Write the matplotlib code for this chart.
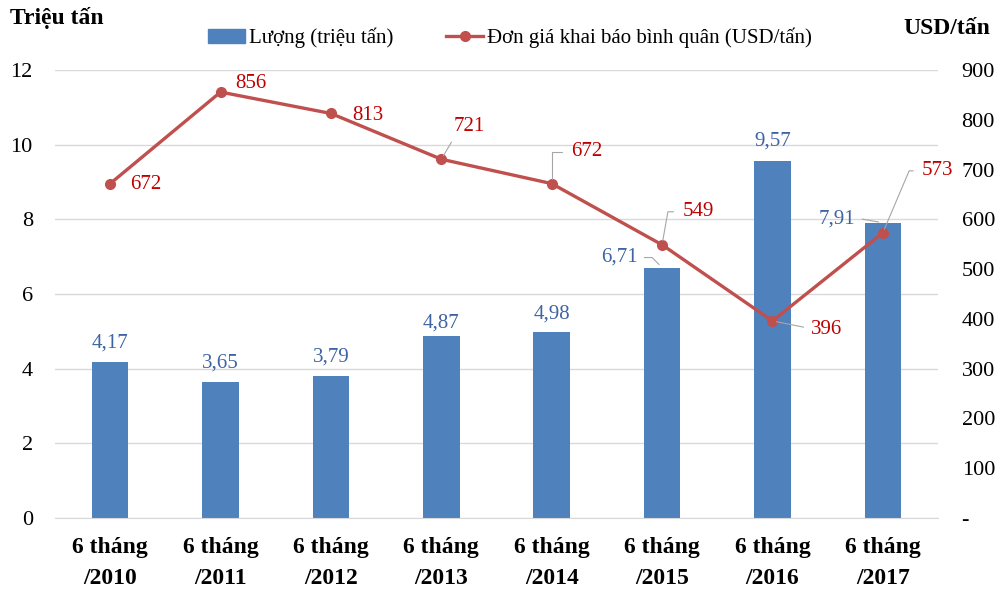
import numpy as np
import matplotlib.pyplot as plt
from matplotlib.lines import Line2D
from matplotlib.patches import Patch

plt.rcParams['font.family'] = ['Liberation Serif', 'DejaVu Serif']

# data
periods = ["6 tháng\n/2010", "6 tháng\n/2011", "6 tháng\n/2012", "6 tháng\n/2013",
           "6 tháng\n/2014", "6 tháng\n/2015", "6 tháng\n/2016", "6 tháng\n/2017"]
volume = [4.17, 3.65, 3.79, 4.87, 4.98, 6.71, 9.57, 7.91]
price = [672, 856, 813, 721, 672, 549, 396, 573]
left_ticks = [0, 2, 4, 6, 8, 10, 12]
right_ticks = [0, 100, 200, 300, 400, 500, 600, 700, 800, 900]
right_labels = ["-", "100", "200", "300", "400", "500", "600", "700", "800", "900"]

bar_color = "#4F81BD"
line_color = "#C0504D"
bar_text = "#3E64A3"
line_text = "#C00000"
lead = "#A6A6A6"

fig = plt.figure(figsize=(10, 6.05), dpi=100)
ax = fig.add_axes([0.055, 0.144, 0.883, 0.740])
ax2 = ax.twinx()

x = np.arange(len(periods))
ax.bar(x, volume, width=0.33, color=bar_color, zorder=2)
ax2.plot(x, price, color=line_color, lw=2.4, marker='o', ms=7, zorder=3)

ax.set_xlim(-0.5, 7.5)
ax.set_ylim(0, 12)
ax2.set_ylim(0, 900)
ax.set_yticks(left_ticks)
ax.set_yticklabels([str(t) for t in left_ticks], fontsize=16)
ax2.set_yticks(right_ticks)
ax2.set_yticklabels(right_labels, fontsize=16)
ax.set_xticks(x)
ax.set_xticklabels(periods, fontsize=17, fontweight='bold', linespacing=1.6)
ax.grid(axis='y', color='#D9D9D9', lw=1, zorder=0)
ax.set_axisbelow(True)
for a in (ax, ax2):
    for s in a.spines.values():
        s.set_visible(False)
    a.tick_params(length=0)
ax.spines['bottom'].set_visible(True)
ax.spines['bottom'].set_color('#D9D9D9')
ax.tick_params(axis='x', pad=14)
ax.tick_params(axis='y', pad=16)
ax2.tick_params(axis='y', pad=17)


def leader(style, rel):
    return dict(arrowstyle='-', color=lead, lw=0.8, shrinkA=3, shrinkB=3,
                connectionstyle=style, relpos=rel)


# bar labels (offsets in pixels from bar top)
bar_off = [(0, 19), (0, 19), (0, 19), (0, 13), (0, 18), (-43, 10), (0, 20), (-46, 4)]
bar_lead = {5: leader('angle,angleA=0,angleB=135,rad=0', (1, 0.5)),
            7: leader('arc3', (1, 0.55))}
for i, v in enumerate(volume):
    dx, dy = bar_off[i]
    ax.annotate(f"{v:.2f}".replace('.', ','), (x[i], v), xytext=(dx, dy),
                textcoords='offset pixels', ha='center', va='center',
                fontsize=15, color=bar_text, arrowprops=bar_lead.get(i), zorder=5)

# line labels
line_off = [(36, -1), (30, 9), (37, -2), (28, 33), (35, 32), (36, 33), (54, -9), (55, 62)]
line_lead = {3: leader('arc3', (0.05, 0.0)),
             4: leader('angle,angleA=0,angleB=90,rad=0', (-0.15, 0.5)),
             5: leader('angle,angleA=0,angleB=80,rad=0', (-0.15, 0.5)),
             6: leader('arc3', (-0.1, 0.6)),
             7: leader('angle,angleA=0,angleB=67,rad=0', (-0.15, 0.5))}
for i, v in enumerate(price):
    dx, dy = line_off[i]
    ax2.annotate(str(v), (x[i], v), xytext=(dx, dy), textcoords='offset pixels',
                 ha='center', va='center', fontsize=15, color=line_text,
                 arrowprops=line_lead.get(i), zorder=5)

fig.text(0.01, 0.97, "Triệu tấn", fontsize=17, fontweight='bold', ha='left', va='center')
fig.text(0.99, 0.953, "USD/tấn", fontsize=17, fontweight='bold', ha='right', va='center')

handles = [Patch(color=bar_color),
           Line2D([], [], color=line_color, lw=2.4, marker='o', ms=7)]
fig.legend(handles, ["Lượng (triệu tấn)", "Đơn giá khai báo bình quân (USD/tấn)"],
           loc='center', bbox_to_anchor=(0.51, 0.937), ncol=2, frameon=False,
           fontsize=15, handlelength=1.8, handletextpad=0.2, columnspacing=2.5)

fig.savefig("out.png", dpi=100)
